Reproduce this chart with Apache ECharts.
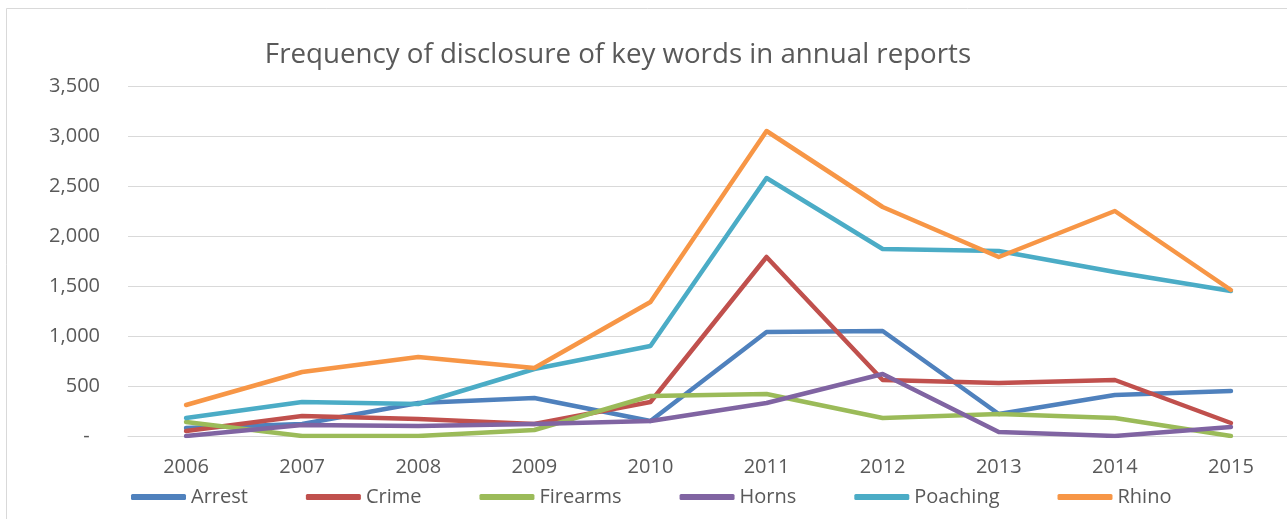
<!DOCTYPE html>
<html>
<head>
<meta charset="utf-8">
<script src="https://cdn.jsdelivr.net/npm/echarts@6/dist/echarts.min.js"></script>
<style>
  html, body { margin: 0; padding: 0; background: #ffffff; }
  #chart { width: 1287px; height: 519px; }
</style>
</head>
<body>
<div id="chart"></div>
<script>
// Years on the category axis
const years = ['2006', '2007', '2008', '2009', '2010', '2011', '2012', '2013', '2014', '2015'];

// Keyword counts per year
const arrest   = [80, 120, 330, 380, 150, 1040, 1050, 220, 410, 450];
const crime    = [50, 200, 170, 120, 340, 1790, 560, 530, 560, 130];
const firearms = [140, 0, 0, 60, 400, 420, 180, 220, 180, 0];
const horns    = [0, 110, 100, 120, 150, 330, 620, 40, 0, 90];
const poaching = [180, 340, 320, 670, 900, 2580, 1870, 1850, 1640, 1450];
const rhino    = [310, 640, 790, 680, 1340, 3050, 2290, 1790, 2250, 1460];

const seriesNames = ['Arrest', 'Crime', 'Firearms', 'Horns', 'Poaching', 'Rhino'];
const seriesData = [arrest, crime, firearms, horns, poaching, rhino];
const seriesColors = ['#4f81bd', '#c0504d', '#9bbb59', '#8064a2', '#4bacc6', '#f79646'];

const textColor = '#595959';
const fontFamily = '"Open Sans", "Liberation Sans", sans-serif';

const chart = echarts.init(document.getElementById('chart'), null, { renderer: 'canvas' });

chart.setOption({
  animation: false,
  backgroundColor: '#ffffff',
  textStyle: { fontFamily: fontFamily },
  graphic: [{
    type: 'rect',
    silent: true,
    shape: { x: 6.5, y: 8.5, width: 1400, height: 700 },
    style: { fill: 'none', stroke: '#d9d9d9', lineWidth: 1 }
  }],
  title: {
    text: 'Frequency of disclosure of key words in annual reports',
    left: 613,
    top: 36,
    textAlign: 'center',
    textStyle: { fontSize: 27.7, fontWeight: 'normal', color: textColor, fontFamily: fontFamily }
  },
  legend: {
    data: seriesNames,
    left: 131,
    top: 487,
    padding: 0,
    icon: 'roundRect',
    itemWidth: 55,
    itemHeight: 6,
    itemGap: 58,
    itemTextGap: 4,
    textStyle: { fontSize: 20, color: textColor, fontFamily: fontFamily }
  },
  grid: {
    left: 128,
    top: 86,
    width: 1161,
    height: 350,
    containLabel: false,
    outerBoundsMode: 'none'
  },
  xAxis: {
    type: 'category',
    data: years,
    boundaryGap: true,
    axisTick: { show: false },
    axisLine: { show: true, lineStyle: { color: '#d9d9d9', width: 1 } },
    axisLabel: { fontSize: 20, color: textColor, margin: 21, fontFamily: fontFamily },
    splitLine: { show: false }
  },
  yAxis: {
    type: 'value',
    min: 0,
    max: 3500,
    interval: 500,
    axisLine: { show: false },
    axisTick: { show: false },
    axisLabel: {
      fontSize: 20,
      color: textColor,
      margin: 28,
      fontFamily: fontFamily,
      formatter: function (v) { return v === 0 ? '-  ' : v.toLocaleString('en-US'); }
    },
    splitLine: { show: true, lineStyle: { color: '#d9d9d9', width: 1 } }
  },
  series: seriesNames.map(function (name, i) {
    return {
      name: name,
      type: 'line',
      data: seriesData[i],
      symbol: 'none',
      showSymbol: false,
      smooth: false,
      color: seriesColors[i],
      lineStyle: { width: 4.5, color: seriesColors[i], join: 'round', cap: 'round' },
      itemStyle: { color: seriesColors[i] }
    };
  })
});
</script>
</body>
</html>
